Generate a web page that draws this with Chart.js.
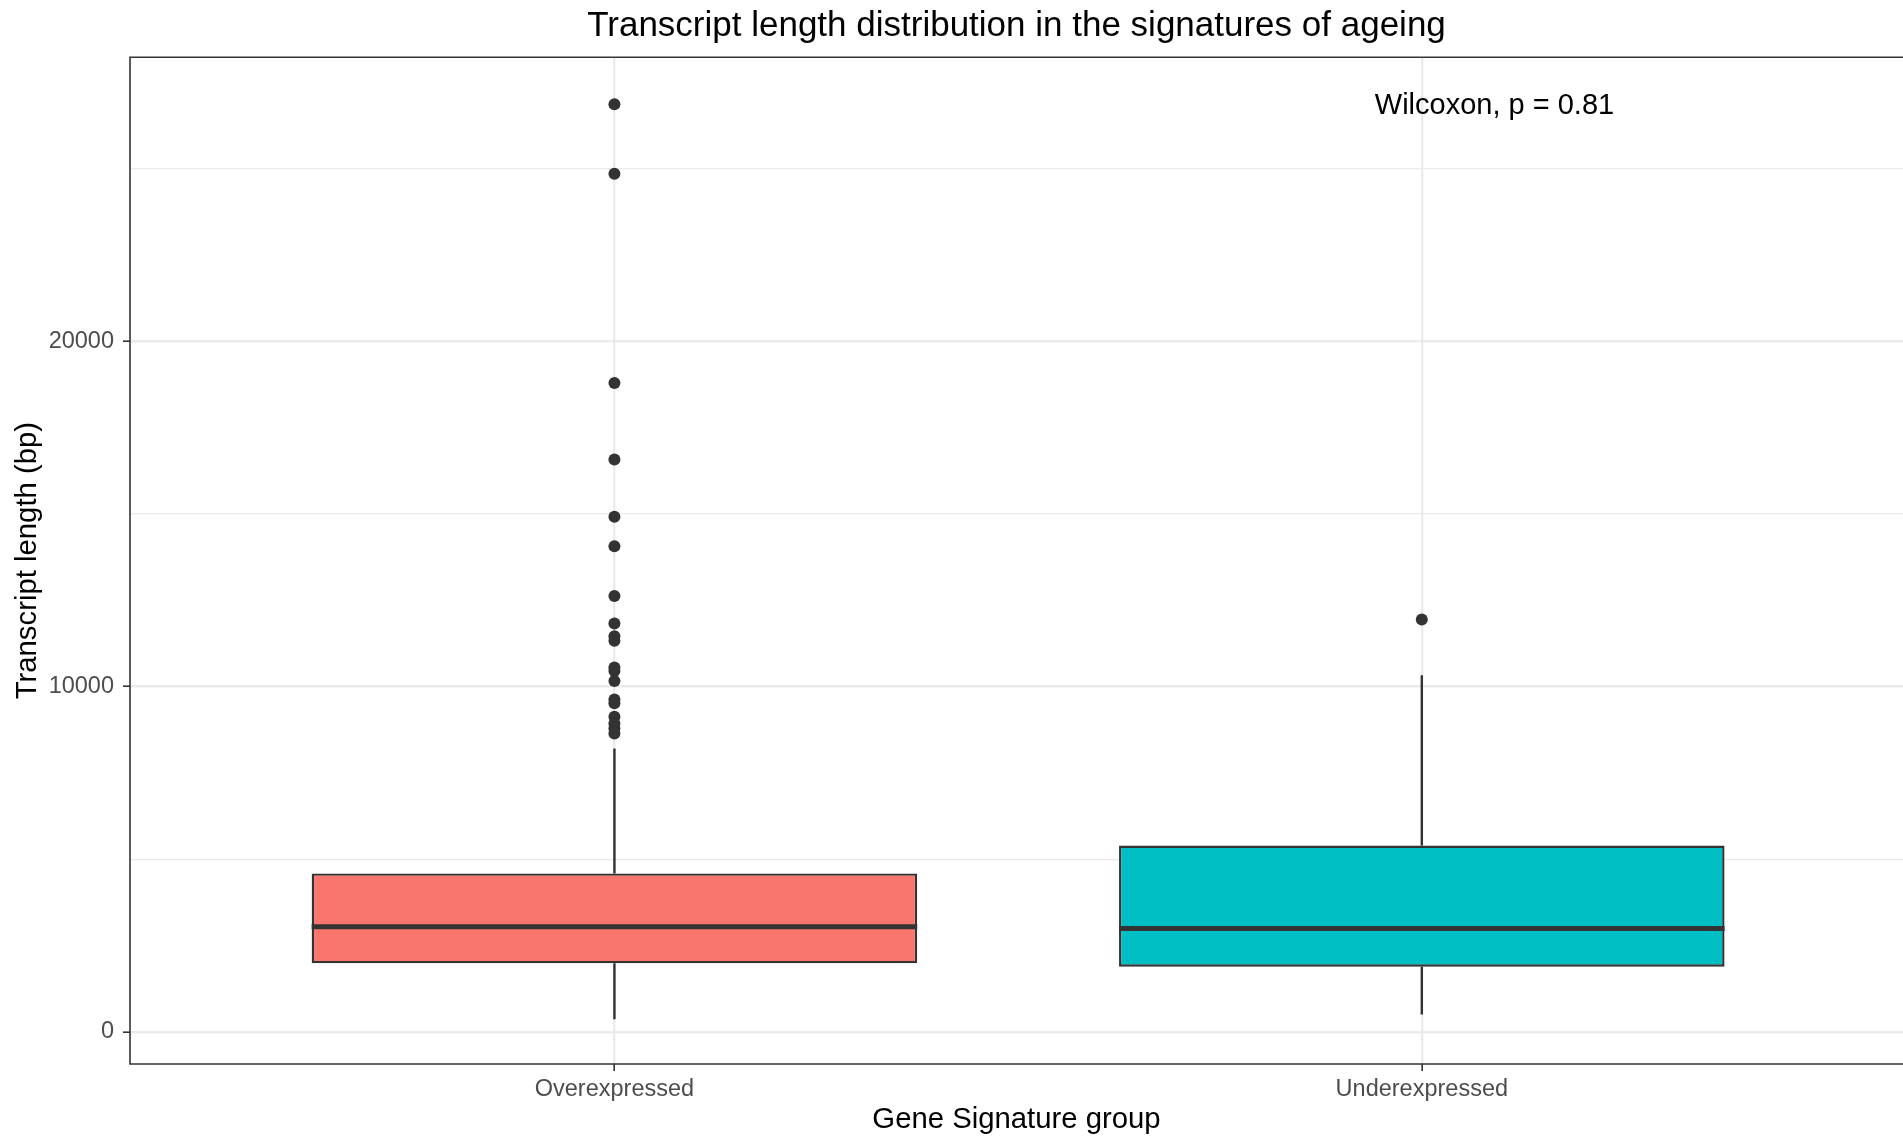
<!DOCTYPE html>
<html>
<head>
<meta charset="utf-8">
<title>Transcript length distribution</title>
<script src="https://cdn.jsdelivr.net/npm/chart.js@4.4.1/dist/chart.umd.min.js"></script>
<style>
  html, body { margin: 0; padding: 0; background: #ffffff; overflow: hidden; }
  #wrap { position: relative; width: 1903px; height: 1137px; }
</style>
</head>
<body>
<div id="wrap"><canvas id="boxCanvas"></canvas></div>
<script>
// Data
const groups = ['Overexpressed', 'Underexpressed'];
const boxColors = ['#F8766D', '#00BFC4'];
const q1 = [1990, 1890];
const medians = [3050, 3000];
const q3 = [4590, 5400];
const lowerWhisker = [370, 510];
const upperWhisker = [8210, 10330];
const outliersOver = [26860, 24850, 18790, 16575, 14915, 14065, 12620, 11830, 11460, 11325,
                      10550, 10450, 10160, 9630, 9515, 9125, 8935, 8790, 8645];
const outliersUnder = [11945];
const yGridValues = [0, 5000, 10000, 15000, 20000, 25000];
const yTickLabels = ['0', '10000', '20000'];
const statLabel = 'Wilcoxon, p = 0.81';
const statPos = { x: 2.09, y: 26800 };

const boxHalf = 0.375;
const fontFamily = '"Liberation Sans", Arial, sans-serif';

// Build the pieces of the boxplot from the arrays above
const boxData = groups.map((g, i) => ({ x: i + 1, y: [q1[i], q3[i]] }));

const medianData = [];
groups.forEach((g, i) => {
  medianData.push({ x: i + 1 - boxHalf, y: medians[i] });
  medianData.push({ x: i + 1 + boxHalf, y: medians[i] });
  medianData.push({ x: i + 1, y: null });
});

const whiskerData = [];
groups.forEach((g, i) => {
  whiskerData.push({ x: i + 1, y: q3[i] });
  whiskerData.push({ x: i + 1, y: upperWhisker[i] });
  whiskerData.push({ x: i + 1, y: null });
  whiskerData.push({ x: i + 1, y: q1[i] });
  whiskerData.push({ x: i + 1, y: lowerWhisker[i] });
  whiskerData.push({ x: i + 1, y: null });
});

const outlierData = outliersOver.map(v => ({ x: 1, y: v }))
  .concat(outliersUnder.map(v => ({ x: 2, y: v })));

// panel border (left, top, bottom) and the stat label
const panelPlugin = {
  id: 'panelPlugin',
  afterDatasetsDraw(chart) {
    const { ctx, chartArea, scales } = chart;
    ctx.save();
    ctx.strokeStyle = '#333333';
    ctx.lineWidth = 1.6;
    ctx.beginPath();
    ctx.moveTo(chartArea.right + 5, chartArea.top);
    ctx.lineTo(chartArea.left, chartArea.top);
    ctx.lineTo(chartArea.left, chartArea.bottom);
    ctx.lineTo(chartArea.right + 5, chartArea.bottom);
    ctx.stroke();

    ctx.fillStyle = '#000000';
    ctx.font = '29px ' + fontFamily;
    ctx.textAlign = 'center';
    ctx.textBaseline = 'middle';
    ctx.fillText(statLabel, scales.x.getPixelForValue(statPos.x), scales.y.getPixelForValue(statPos.y));
    ctx.restore();
  }
};

Chart.defaults.font.family = fontFamily;

const ctx = document.getElementById('boxCanvas').getContext('2d');
const boxChart = new Chart(ctx, {
  type: 'bar',
  data: {
    datasets: [
      {
        type: 'line',
        label: 'median',
        data: medianData,
        borderColor: '#333333',
        borderWidth: 5,
        pointRadius: 0,
        spanGaps: false,
        order: 1
      },
      {
        type: 'scatter',
        label: 'outliers',
        data: outlierData,
        pointRadius: 6,
        pointBackgroundColor: '#333333',
        pointBorderWidth: 0,
        order: 0
      },
      {
        type: 'line',
        label: 'whiskers',
        data: whiskerData,
        borderColor: '#333333',
        borderWidth: 2.4,
        pointRadius: 0,
        spanGaps: false,
        order: 2
      },
      {
        type: 'bar',
        label: 'box',
        data: boxData,
        backgroundColor: boxColors,
        borderColor: '#333333',
        borderWidth: 2.4,
        borderSkipped: false,
        categoryPercentage: 1,
        barPercentage: 0.75,
        order: 3
      }
    ]
  },
  options: {
    responsive: true,
    maintainAspectRatio: false,
    animation: false,
    layout: { padding: 0, autoPadding: false },
    plugins: {
      legend: { display: false },
      tooltip: { enabled: false },
      title: {
        display: true,
        fullSize: false,
        text: 'Transcript length distribution in the signatures of ageing',
        color: '#000000',
        font: { size: 35, weight: 'normal', lineHeight: 1.15 },
        padding: { top: 6, bottom: 11 }
      }
    },
    scales: {
      x: {
        type: 'linear',
        min: 0.4,
        max: 2.596,
        offset: false,
        afterBuildTicks: scale => {
          scale.ticks = groups.map((g, i) => ({ value: i + 1 }));
        },
        afterFit: scale => {
          scale.height = 73;
          scale.paddingLeft = 0;
          scale.paddingRight = 0;
        },
        ticks: {
          color: '#4D4D4D',
          font: { size: 23.5 },
          padding: 4,
          maxRotation: 0,
          callback: value => groups[value - 1]
        },
        grid: {
          offset: false,
          color: '#EBEBEB',
          lineWidth: 2.4,
          tickColor: '#333333',
          tickWidth: 1.6,
          tickLength: 7
        },
        border: { display: false },
        title: {
          display: true,
          text: 'Gene Signature group',
          color: '#000000',
          font: { size: 29.3, lineHeight: 1.2 },
          padding: { top: 0, bottom: 0 }
        }
      },
      y: {
        type: 'linear',
        min: -926,
        max: 28220,
        afterBuildTicks: scale => {
          scale.ticks = yGridValues.map(v => ({ value: v }));
        },
        afterFit: scale => { scale.width = 130; },
        ticks: {
          color: '#4D4D4D',
          font: { size: 23.5 },
          padding: 9,
          callback: value => (yTickLabels.includes(String(value)) ? String(value) : '')
        },
        grid: {
          color: '#EBEBEB',
          lineWidth: c => (yTickLabels.includes(String(c.tick.value)) ? 2.4 : 1.3),
          tickColor: c => (yTickLabels.includes(String(c.tick.value)) ? '#333333' : 'rgba(0,0,0,0)'),
          tickWidth: 1.6,
          tickLength: 7
        },
        border: { display: false },
        title: {
          display: true,
          text: 'Transcript length (bp)',
          color: '#000000',
          font: { size: 29.3, lineHeight: 1.2 },
          padding: { top: 10, bottom: 0 }
        }
      }
    }
  },
  plugins: [panelPlugin]
});
</script>
</body>
</html>
